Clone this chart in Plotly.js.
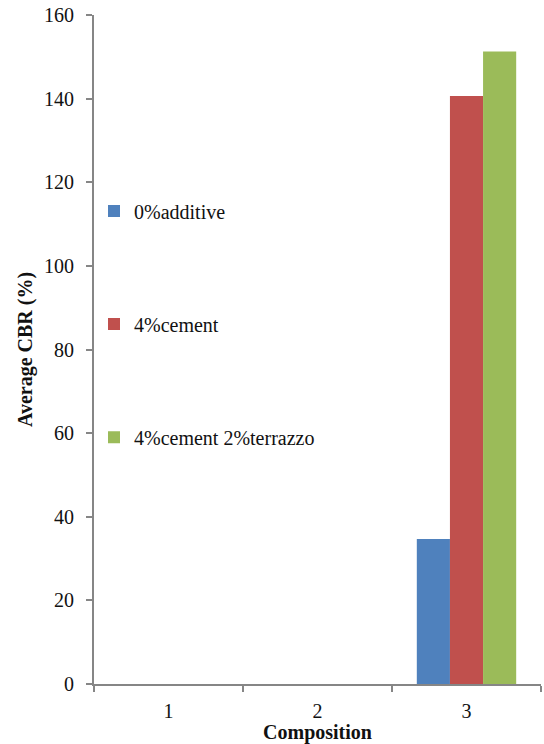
<!DOCTYPE html>
<html>
<head>
<meta charset="utf-8">
<script src="https://cdn.plot.ly/plotly-3.0.1.min.js"></script>
<style>
  html, body { margin: 0; padding: 0; background: #fff; }
  #chart { width: 544px; height: 744px; }
</style>
</head>
<body>
<div id="chart"></div>
<script>
// Composition categories on the x axis
const compositions = ['1', '2', '3'];

// Average CBR (%) per series; only composition 3 carries measurements
const additive0 = [null, null, 34.7];
const cement4 = [null, null, 140.6];
const cement4Terrazzo2 = [null, null, 151.3];

const seriesNames = ['0%additive', '4%cement', '4%cement 2%terrazzo'];
const seriesColors = ['#4F81BD', '#C0504D', '#9BBB59'];
const yTicks = [0, 20, 40, 60, 80, 100, 120, 140, 160];

const serif = '"Liberation Serif", "Times New Roman", serif';
const axisGrey = '#868686';

const seriesValues = [additive0, cement4, cement4Terrazzo2];
const legendIds = ['legend', 'legend2', 'legend3'];

const traces = seriesValues.map((vals, i) => ({
  type: 'bar',
  name: seriesNames[i],
  x: compositions,
  y: vals,
  marker: { color: seriesColors[i], line: { width: 0 } },
  legend: legendIds[i],
  hoverinfo: 'x+y+name'
}));

// one small legend box per series, stacked down the left of the plot
const legendY = [0.707, 0.538, 0.369];
const legendBase = {
  x: 0.0, xanchor: 'left', yanchor: 'middle',
  bgcolor: 'rgba(0,0,0,0)', borderwidth: 0,
  font: { family: serif, size: 20, color: '#111' },
  itemwidth: 30
};

const layout = {
  width: 544,
  height: 744,
  margin: { l: 94, r: 3, t: 15, b: 60 },
  paper_bgcolor: '#fff',
  plot_bgcolor: '#fff',
  barmode: 'group',
  bargap: 0.333,
  bargroupgap: 0,
  font: { family: serif, size: 20, color: '#111' },
  showlegend: true,
  legend: Object.assign({}, legendBase, { y: legendY[0] }),
  legend2: Object.assign({}, legendBase, { y: legendY[1] }),
  legend3: Object.assign({}, legendBase, { y: legendY[2] }),
  xaxis: {
    type: 'category',
    range: [-0.5, 2.5],
    showgrid: false,
    zeroline: false,
    showline: true,
    linecolor: axisGrey,
    linewidth: 2,
    ticks: 'outside',
    tickson: 'boundaries',
    ticklen: 6,
    tickwidth: 2,
    tickcolor: axisGrey,
    ticklabelstandoff: 8,
    tickfont: { family: serif, size: 20, color: '#111' },
    title: {
      text: 'Composition',
      font: { family: serif, size: 20, color: '#111', weight: 'bold' },
      standoff: 4
    },
    automargin: false,
    fixedrange: true
  },
  yaxis: {
    range: [0, 160],
    tickvals: yTicks,
    showgrid: false,
    zeroline: false,
    showline: true,
    linecolor: axisGrey,
    linewidth: 2,
    ticks: 'outside',
    ticklen: 6,
    tickwidth: 2,
    tickcolor: axisGrey,
    ticklabelstandoff: 8,
    tickfont: { family: serif, size: 20, color: '#111' },
    title: {
      text: 'Average CBR (%)',
      font: { family: serif, size: 20, color: '#111', weight: 'bold' },
      standoff: 6
    },
    automargin: false,
    fixedrange: true
  }
};

Plotly.newPlot('chart', traces, layout, { displayModeBar: false, staticPlot: true });
</script>
</body>
</html>
